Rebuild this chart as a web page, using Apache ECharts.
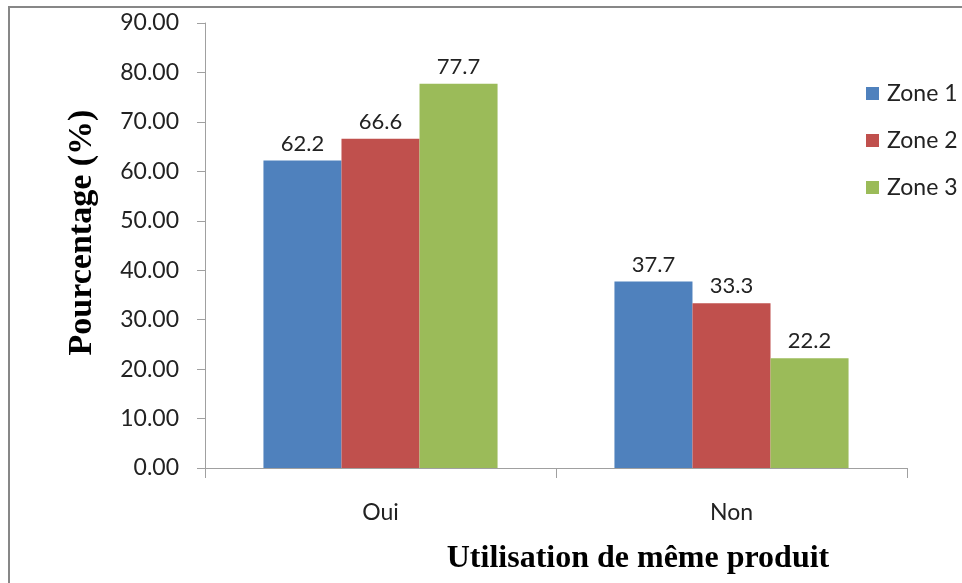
<!DOCTYPE html>
<html><head><meta charset="utf-8">
<script src="https://cdn.jsdelivr.net/npm/echarts@6/dist/echarts.min.js"></script>
<style>html,body{margin:0;padding:0;background:#fff;overflow:hidden}#c{width:962px;height:583px}</style>
</head><body><div id="c"></div>
<script>
const categories = ['Oui', 'Non'];
const zone1 = [62.2, 37.7];
const zone2 = [66.6, 33.3];
const zone3 = [77.7, 22.2];
const seriesNames = ['Zone 1', 'Zone 2', 'Zone 3'];
const colors = ['#4F81BD', '#C0504D', '#9BBB59'];
const sans = 'Lato, "Open Sans", sans-serif';
const serif = '"Liberation Serif", "DejaVu Serif", serif';

const chart = echarts.init(document.getElementById('c'));
const mk = (name, data, color) => ({
  name, type: 'bar', data, barGap: '0%', barCategoryGap: '33.3%',
  itemStyle: { color },
  label: { show: true, position: 'top', distance: 6, color: '#222', fontFamily: sans, fontSize: 22,
    formatter: p => p.value.toFixed(1) }
});
chart.setOption({
  animation: false,
  graphic: [{ type: 'rect', shape: { x: 9, y: 7, width: 1200, height: 1200 },
    style: { fill: 'none', stroke: '#878787', lineWidth: 2 }, z: 100 }],
  grid: { left: 205, top: 23, right: 55, bottom: 115, containLabel: false, outerBoundsMode: 'none' },
  legend: {
    orient: 'vertical', left: 861, top: 77, itemGap: 24, itemWidth: 13, itemHeight: 13,
    icon: 'rect', data: seriesNames,
    textStyle: { fontFamily: sans, fontSize: 23, color: '#222', padding: [0, 0, 0, 3] }
  },
  xAxis: {
    type: 'category', data: categories,
    name: 'Utilisation de même produit', nameLocation: 'middle', nameGap: 75,
    nameTextStyle: { fontFamily: serif, fontSize: 32, fontWeight: 'bold', color: '#000', padding: [0, 0, 0, 164] },
    axisLine: { lineStyle: { color: '#a0a0a0', width: 1 } },
    axisTick: { show: true, length: 10, lineStyle: { color: '#a0a0a0' } },
    axisLabel: { margin: 33, fontFamily: sans, fontSize: 23, color: '#222' }
  },
  yAxis: {
    type: 'value', min: 0, max: 90, interval: 10,
    name: 'Pourcentage (%)', nameLocation: 'middle', nameGap: 106, nameRotate: 90,
    nameTextStyle: { fontFamily: serif, fontSize: 34, fontWeight: 'bold', color: '#000', padding: [0, 0, 0, 26] },
    axisLine: { show: true, lineStyle: { color: '#a0a0a0', width: 1 } },
    axisTick: { show: true, length: 8, lineStyle: { color: '#a0a0a0' } },
    splitLine: { show: false },
    axisLabel: { margin: 26, fontFamily: sans, fontSize: 23, color: '#222', formatter: v => v.toFixed(2) }
  },
  series: [mk(seriesNames[0], zone1, colors[0]), mk(seriesNames[1], zone2, colors[1]), mk(seriesNames[2], zone3, colors[2])]
});
</script></body></html>
